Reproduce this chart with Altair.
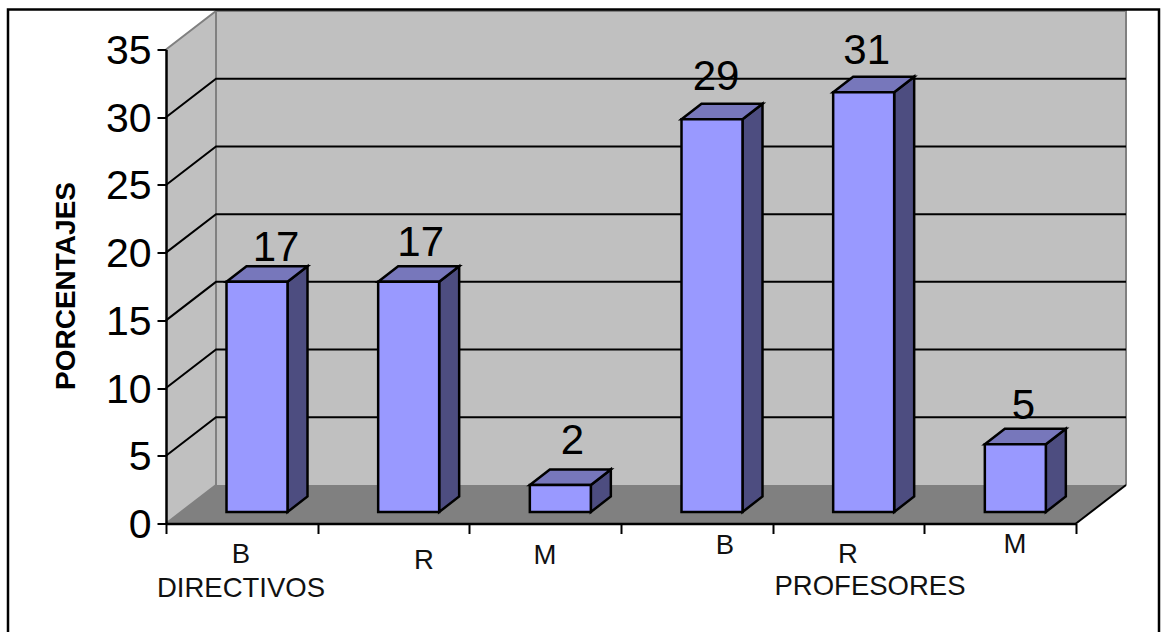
import altair as alt
import pandas as pd

# Survey results by group and rating
groups = ["DIRECTIVOS", "PROFESORES"]
ratings = ["B", "R", "M", "B", "R", "M"]
values = [17, 17, 2, 29, 31, 5]
y_ticks = [0, 5, 10, 15, 20, 25, 30, 35]
x_ticks = [0, 1, 2, 3, 4, 5, 6]

# Plot geometry, in pixels
LEFT, TOP, PLOT_W, PLOT_H = 166, 49.5, 910, 474
PAGE_W, PAGE_H = 1162, 632
PX_X = PLOT_W / 6
PX_Y = PLOT_H / 35


def ux(px):
    return px / PX_X


def uy(px):
    return px / PX_Y


# Projection offsets of the fake 3D box and columns
WALL_DX, WALL_DY = ux(50), uy(38.5)
BAR_LEFT, BAR_W = ux(60.5), ux(61)
BAR_DX, BAR_DY = ux(20), uy(15.5)
BAR_BASE = uy(11.5)

WALL, FLOOR, EDGE = "#c0c0c0", "#808080", "#808080"
FRONT, TOPFACE, SIDE = "#9999ff", "#7777bb", "#4d4d80"
FONT = "Liberation Sans"

x_scale = alt.Scale(domain=[0, 6], nice=False, zero=False)
y_scale = alt.Scale(domain=[0, 35], nice=False, zero=False)
X = alt.X("x:Q", scale=x_scale, title=None,
          axis=alt.Axis(values=x_ticks, labels=False, ticks=True, tickSize=10, tickWidth=2,
                        tickColor="black", domainColor="black", domainWidth=2.5, grid=False, zindex=1))
Y = alt.Y("y:Q", scale=y_scale, title="PORCENTAJES",
          axis=alt.Axis(values=y_ticks, tickSize=9, tickWidth=2, tickColor="black",
                        domainColor="black", domainWidth=2.5, grid=False, zindex=1,
                        labelFont=FONT, labelFontSize=41, labelColor="black", labelPadding=6,
                        labelOffset=2,
                        titleFont=FONT, titleFontSize=28, titleFontWeight="bold",
                        titleColor="black", titleX=-86, titleY=236))
Y2 = alt.Y2("y2:Q")


def area(rows, fill, stroke=None, width=2.5):
    props = {"fill": fill, "interpolate": "linear"}
    if stroke:
        props.update(stroke=stroke, strokeWidth=width, strokeJoin="miter")
    return alt.Chart(pd.DataFrame(rows)).mark_area(**props).encode(
        x=X, y=Y, y2=Y2, detail="g:N")


def line(rows, color, width):
    return alt.Chart(pd.DataFrame(rows)).mark_line(color=color, strokeWidth=width).encode(
        x=X, y=Y, detail="g:N")


# Outer frame of the chart object, drawn last so the walls do not cover it
frame = alt.Chart(pd.DataFrame({"a": [0]})).mark_rect(
    fill=None, stroke="black", strokeWidth=2.5).encode(
    x=alt.value(8 - LEFT), x2=alt.value(1159 - LEFT),
    y=alt.value(9.5 - TOP), y2=alt.value(PAGE_H + 20 - TOP))

# Back wall, left wall and floor
back_wall = area([
    {"g": 0, "x": WALL_DX, "y": 35 + WALL_DY, "y2": WALL_DY},
    {"g": 0, "x": 6 + WALL_DX, "y": 35 + WALL_DY, "y2": WALL_DY},
], WALL)
left_wall = area([
    {"g": 0, "x": 0, "y": 35, "y2": 0},
    {"g": 0, "x": WALL_DX, "y": 35 + WALL_DY, "y2": WALL_DY},
], WALL)
floor = area([
    {"g": 0, "x": 0, "y": 0, "y2": 0},
    {"g": 0, "x": WALL_DX, "y": WALL_DY, "y2": 0},
    {"g": 0, "x": 6, "y": WALL_DY, "y2": 0},
    {"g": 0, "x": 6 + WALL_DX, "y": WALL_DY, "y2": WALL_DY},
], FLOOR)

# Wall edges
edge_rows = []
edge_paths = [
    [(0, 35), (WALL_DX, 35 + WALL_DY), (6 + WALL_DX, 35 + WALL_DY), (6 + WALL_DX, WALL_DY)],
    [(WALL_DX, 35 + WALL_DY), (WALL_DX, WALL_DY)],
    [(0, 0), (WALL_DX, WALL_DY)],
]
for g, path in enumerate(edge_paths):
    edge_rows += [{"g": g, "x": a, "y": b, "o": k} for k, (a, b) in enumerate(path)]
edges = alt.Chart(pd.DataFrame(edge_rows)).mark_line(color=EDGE, strokeWidth=2).encode(
    x=X, y=Y, detail="g:N", order="o:Q")
floor_edge = line([
    {"g": 0, "x": 6, "y": 0},
    {"g": 0, "x": 6 + WALL_DX, "y": WALL_DY},
], "black", 2)

# Gridlines run along the left wall and then across the back wall
grid_rows = []
for v in y_ticks[1:-1]:
    grid_rows += [
        {"g": v, "x": 0, "y": v, "o": 0},
        {"g": v, "x": WALL_DX, "y": v + WALL_DY, "o": 1},
        {"g": v, "x": 6 + WALL_DX, "y": v + WALL_DY, "o": 2},
    ]
grid = alt.Chart(pd.DataFrame(grid_rows)).mark_line(color="black", strokeWidth=2).encode(
    x=X, y=Y, detail="g:N", order="o:Q")

# Columns: side, top and front faces
side_rows, top_rows, front_rows = [], [], []
for i, v in enumerate(values):
    x0 = i + BAR_LEFT
    x1 = x0 + BAR_W
    top = v + BAR_BASE
    side_rows += [
        {"g": i, "x": x1, "y": top, "y2": BAR_BASE},
        {"g": i, "x": x1 + BAR_DX, "y": top + BAR_DY, "y2": BAR_BASE + BAR_DY},
    ]
    top_rows += [
        {"g": i, "x": x0, "y": top, "y2": top},
        {"g": i, "x": x0 + BAR_DX, "y": top + BAR_DY, "y2": top},
        {"g": i, "x": x1, "y": top + BAR_DY, "y2": top},
        {"g": i, "x": x1 + BAR_DX, "y": top + BAR_DY, "y2": top + BAR_DY},
    ]
    front_rows.append({"x": x0, "x2": x1, "y": top, "y2": BAR_BASE})

sides = area(side_rows, SIDE, "black")
tops = area(top_rows, TOPFACE, "black")
fronts = alt.Chart(pd.DataFrame(front_rows)).mark_rect(
    fill=FRONT, stroke="black", strokeWidth=2.5).encode(
    x=X, x2="x2:Q", y=Y, y2=Y2)

# Value labels sit above each column, each with its own small nudge in pixels
label_nudges = [(9, 5), (2, 10), (2, 15), (-6, 14), (-7, 13), (-2, 10)]
value_rows = []
for i, (v, (ndx, ndy)) in enumerate(zip(values, label_nudges)):
    value_rows.append({
        "x": i + BAR_LEFT + BAR_W / 2 + BAR_DX / 2 + ux(ndx),
        "y": v + BAR_BASE + BAR_DY + uy(ndy),
        "t": str(v),
    })
value_labels = alt.Chart(pd.DataFrame(value_rows)).mark_text(
    font=FONT, fontSize=42, color="black", baseline="alphabetic", align="center"
).encode(x=X, y=Y, text="t:N")

# Category captions under the axis, hand placed at their own offsets
cat_x_px = [241, 424, 545, 725, 848, 1015]
cat_drop_px = [39.5, 45, 40.5, 30, 39.5, 29.5]
cat_rows = [
    {"x": ux(px - LEFT), "y": -uy(drop), "t": t}
    for t, px, drop in zip(ratings, cat_x_px, cat_drop_px)
]
group_rows = [
    {"x": ux(241 - LEFT), "y": -uy(73.5), "t": groups[0]},
    {"x": ux(870 - LEFT), "y": -uy(71.5), "t": groups[1]},
]
cat_labels = alt.Chart(pd.DataFrame(cat_rows + group_rows)).mark_text(
    font=FONT, fontSize=27.5, color="#111111", baseline="alphabetic", align="center"
).encode(x=X, y=Y, text="t:N")

chart = alt.layer(
    back_wall, left_wall, floor, edges, grid, floor_edge,
    sides, tops, fronts, value_labels, cat_labels, frame,
).properties(
    width=PLOT_W,
    height=PLOT_H,
    padding={"left": LEFT, "top": TOP, "right": PAGE_W - LEFT - PLOT_W, "bottom": PAGE_H - TOP - PLOT_H},
    autosize=alt.AutoSizeParams(type="none"),
    background="white",
).configure_view(stroke=None)

chart.save("out.html", embed_options={"renderer": "svg", "actions": False})
